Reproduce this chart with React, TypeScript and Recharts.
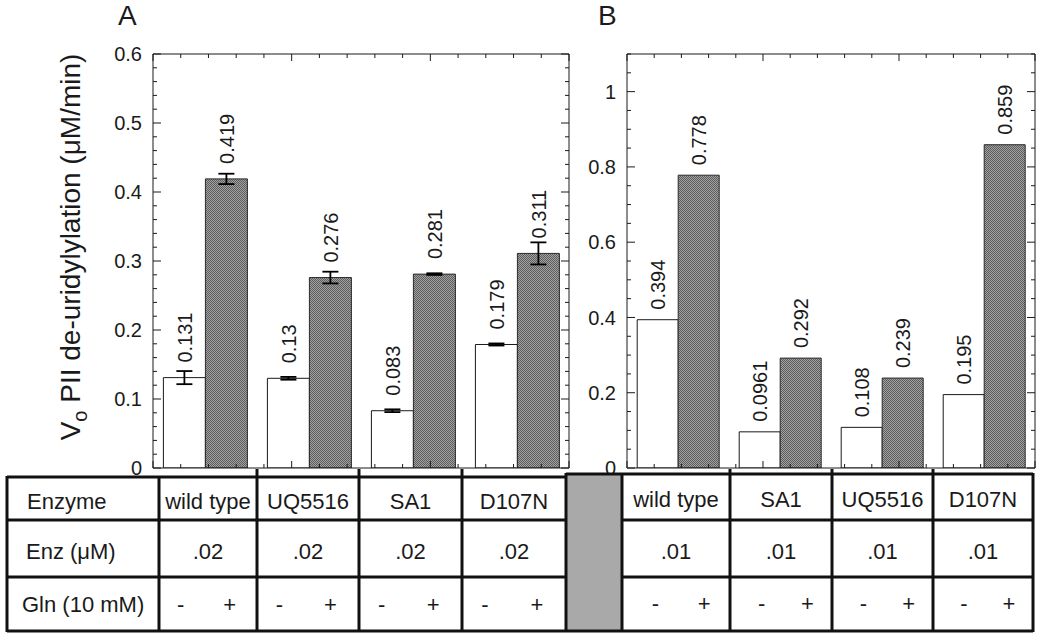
import { BarChart, Bar, XAxis, YAxis, ErrorBar, LabelList } from "recharts";

const FONT = '"Liberation Sans", Arial, Helvetica, sans-serif';
const INK = "#1a1a1a";

// panel A: 0.02 uM enzyme
const enzymesA = ["wild type", "UQ5516", "SA1", "D107N"];
const withoutGlnA = [0.131, 0.13, 0.083, 0.179];
const withGlnA = [0.419, 0.276, 0.281, 0.311];
const withoutGlnErrA = [0.0095, 0.002, 0.002, 0.0015];
const withGlnErrA = [0.0075, 0.0085, 0.0012, 0.016];
const enzConcA = [".02", ".02", ".02", ".02"];
const yTicksA = [0, 0.1, 0.2, 0.3, 0.4, 0.5, 0.6];

// panel B: 0.01 uM enzyme
const enzymesB = ["wild type", "SA1", "UQ5516", "D107N"];
const withoutGlnB = [0.394, 0.0961, 0.108, 0.195];
const withGlnB = [0.778, 0.292, 0.239, 0.859];
const enzConcB = [".01", ".01", ".01", ".01"];
const yTicksB = [0, 0.2, 0.4, 0.6, 0.8, 1];

const rowLabels = ["Enzyme", "Enz (\u03bcM)", "Gln (10 mM)"];
const glnSigns = ["-", "+"];
const yLabelRest = " PII de-uridylylation (\u03bcM/min)";

// minor tick positions (axis decoration only)
const minorA = Array.from({ length: 31 }, (_, i) => +(i * 0.02).toFixed(2));
const minorB = Array.from({ length: 23 }, (_, i) => +(i * 0.05).toFixed(2));
const xTicks = Array.from({ length: 21 }, (_, i) => +(i * 0.2).toFixed(1));

const dataA = enzymesA.map((enzyme, i) => ({
  enzyme,
  without: withoutGlnA[i],
  withGln: withGlnA[i],
  withoutErr: withoutGlnErrA[i],
  withErr: withGlnErrA[i],
}));

const dataB = enzymesB.map((enzyme, i) => ({
  enzyme,
  without: withoutGlnB[i],
  withGln: withGlnB[i],
}));

const near = (v: number, list: number[]) => list.some((t) => Math.abs(t - v) < 1e-6);

function makeYTick(side: "left" | "right", majors: number[]) {
  return (props: any) => {
    const { x, y, payload } = props;
    const major = near(payload.value, majors);
    const dir = side === "left" ? 1 : -1;
    return (
      <g>
        <line x1={x} y1={y} x2={x + dir * (major ? 8 : 4)} y2={y} stroke={INK} strokeWidth={1} />
        {side === "left" && major && (
          <text x={x - 11} y={y} dy="0.36em" textAnchor="end" fontSize={20} fontFamily={FONT} fill={INK}>
            {String(payload.value)}
          </text>
        )}
      </g>
    );
  };
}

function makeXTick(side: "top" | "bottom") {
  return (props: any) => {
    const { x, y, payload } = props;
    const major = Math.abs(payload.value - Math.round(payload.value)) < 1e-6;
    const dir = side === "top" ? 1 : -1;
    return <line x1={x} y1={y} x2={x} y2={y + dir * (major ? 7 : 4)} stroke={INK} strokeWidth={1} />;
  };
}

function makeValueLabel(gap: number) {
  return (props: any) => {
    const { x, y, width, value } = props;
    const cx = Number(x) + Number(width) / 2;
    const ty = Number(y) - gap;
    return (
      <text
        x={cx}
        y={ty}
        dy="0.36em"
        transform={`rotate(-90 ${cx} ${ty})`}
        textAnchor="start"
        fontSize={20}
        fontFamily={FONT}
        fill={INK}
      >
        {String(value)}
      </text>
    );
  };
}

function Panel({
  data,
  width,
  left,
  marginLeft,
  marginRight,
  yMax,
  majors,
  minors,
  labelGap,
  withErrors,
}: {
  data: any[];
  width: number;
  left: number;
  marginLeft: number;
  marginRight: number;
  yMax: number;
  majors: number[];
  minors: number[];
  labelGap: number;
  withErrors: boolean;
}) {
  const xCommon = {
    type: "number" as const,
    domain: [0, 4],
    ticks: xTicks,
    interval: 0 as const,
    height: 1,
    tickLine: false,
    tickSize: 0,
    tickMargin: 0,
    allowDataOverflow: true,
    axisLine: { stroke: INK, strokeWidth: 1 },
  };
  const yCommon = {
    type: "number" as const,
    domain: [0, yMax],
    ticks: minors,
    interval: 0 as const,
    tickLine: false,
    tickSize: 0,
    tickMargin: 0,
    allowDataOverflow: true,
    axisLine: { stroke: INK, strokeWidth: 1 },
  };
  return (
    <div style={{ position: "absolute", left, top: 0 }}>
      <BarChart
        width={width}
        height={480}
        data={data}
        margin={{ top: 53, right: marginRight, bottom: 11, left: marginLeft }}
        barCategoryGap="10%"
        barGap={0}
      >
        <XAxis xAxisId="cat" dataKey="enzyme" hide />
        <XAxis xAxisId="top" orientation="top" {...xCommon} tick={makeXTick("top")} />
        <XAxis xAxisId="bottom" orientation="bottom" {...xCommon} tick={makeXTick("bottom")} />
        <YAxis yAxisId="l" orientation="left" width={60} {...yCommon} tick={makeYTick("left", majors)} />
        <YAxis yAxisId="r" orientation="right" width={1} {...yCommon} tick={makeYTick("right", majors)} />
        <Bar
          xAxisId="cat"
          yAxisId="l"
          dataKey="without"
          fill="#ffffff"
          stroke={INK}
          strokeWidth={1}
          isAnimationActive={false}
        >
          {withErrors && (
            <ErrorBar dataKey="withoutErr" width={8} stroke="#000" strokeWidth={1.8} isAnimationActive={false} />
          )}
          <LabelList dataKey="without" content={makeValueLabel(labelGap)} />
        </Bar>
        <Bar
          xAxisId="cat"
          yAxisId="l"
          dataKey="withGln"
          fill="url(#stipple)"
          stroke="#2a2a2a"
          strokeWidth={1}
          isAnimationActive={false}
        >
          {withErrors && (
            <ErrorBar dataKey="withErr" width={8} stroke="#000" strokeWidth={1.8} isAnimationActive={false} />
          )}
          <LabelList dataKey="withGln" content={makeValueLabel(labelGap)} />
        </Bar>
      </BarChart>
    </div>
  );
}

const LEFT_COLS = [159, 257, 359, 462, 566];
const RIGHT_COLS = [622, 730, 832, 933, 1033];

function Table() {
  const line = (x1: number, y1: number, x2: number, y2: number, key: string) => (
    <line key={key} x1={x1} y1={y1} x2={x2} y2={y2} stroke="#111" strokeWidth={3} />
  );
  const textProps = { fontSize: 22, fontFamily: FONT, fill: INK, dy: "0.36em" };
  const cells = (
    cols: number[],
    names: string[],
    conc: string[],
    rowY: number[],
    signPos: number[],
    prefix: string
  ) =>
    names.map((name, i) => {
      const x0 = cols[i];
      const x1 = cols[i + 1];
      const w = x1 - x0;
      const cx = (x0 + x1) / 2;
      return (
        <g key={prefix + i}>
          <text x={cx} y={rowY[0]} textAnchor="middle" {...textProps}>{name}</text>
          <text x={cx} y={rowY[1]} textAnchor="middle" {...textProps}>{conc[i]}</text>
          <text x={x0 + w * signPos[0]} y={rowY[2]} textAnchor="middle" {...textProps}>{glnSigns[0]}</text>
          <text x={x0 + w * signPos[1]} y={rowY[2]} textAnchor="middle" {...textProps}>{glnSigns[1]}</text>
        </g>
      );
    });
  return (
    <svg width={1050} height={640} style={{ position: "absolute", left: 0, top: 0, pointerEvents: "none" }}>
      <rect x={566} y={474} width={56} height={157} fill="#a9a9a9" />
      {line(7, 477, 566, 477, "t1")}
      {line(566, 474, 1033, 474, "t2")}
      {line(7, 520, 566, 520, "r1")}
      {line(622, 520, 1033, 520, "r2")}
      {line(7, 577, 566, 577, "r3")}
      {line(622, 577, 1033, 577, "r4")}
      {line(7, 631, 1033, 631, "b")}
      {line(7, 476, 7, 632, "v0")}
      {line(159, 476, 159, 632, "v1")}
      {[257, 359, 462].map((x) => line(x, 469, x, 632, "va" + x))}
      {line(566, 473, 566, 632, "v5")}
      {line(622, 473, 622, 632, "v6")}
      {[730, 832, 933].map((x) => line(x, 469, x, 632, "vb" + x))}
      {line(1033, 473, 1033, 632, "v10")}
      <text x={27} y={501} {...textProps}>{rowLabels[0]}</text>
      <text x={26} y={551} {...textProps}>{rowLabels[1]}</text>
      <text x={22} y={604} {...textProps}>{rowLabels[2]}</text>
      {cells(LEFT_COLS, enzymesA, enzConcA, [501, 551, 604], [0.22, 0.72], "a")}
      {cells(RIGHT_COLS, enzymesB, enzConcB, [499, 551, 603], [0.31, 0.76], "b")}
    </svg>
  );
}

export default function App() {
  return (
    <div
      style={{
        position: "absolute",
        left: 0,
        top: 0,
        width: 1050,
        height: 640,
        background: "#ffffff",
        overflow: "hidden",
        fontFamily: FONT,
      }}
    >
      <svg width={0} height={0} style={{ position: "absolute" }}>
        <defs>
          <pattern id="stipple" width={2} height={2} patternUnits="userSpaceOnUse">
            <rect width={2} height={2} fill="#a2a2a2" />
            <rect width={1} height={1} fill="#5c5c5c" />
            <rect x={1} y={1} width={1} height={1} fill="#5c5c5c" />
          </pattern>
        </defs>
      </svg>
      <Panel
        data={dataA}
        width={580}
        left={0}
        marginLeft={93}
        marginRight={10}
        yMax={0.6}
        majors={yTicksA}
        minors={minorA}
        labelGap={15}
        withErrors
      />
      <Panel
        data={dataB}
        width={530}
        left={520}
        marginLeft={47}
        marginRight={14}
        yMax={1.1}
        majors={yTicksB}
        minors={minorB}
        labelGap={10}
        withErrors={false}
      />
      <svg width={1050} height={640} style={{ position: "absolute", left: 0, top: 0, pointerEvents: "none" }}>
        <text x={118} y={25} fontSize={28} fontFamily={FONT} fill={INK}>A</text>
        <text x={598} y={25} fontSize={28} fontFamily={FONT} fill={INK}>B</text>
        <text
          x={80}
          y={247}
          transform="rotate(-90 80 247)"
          textAnchor="middle"
          fontSize={28}
          fontFamily={FONT}
          fill={INK}
        >
          V<tspan dy={7} fontSize={20}>o</tspan>
          <tspan dy={-7}>{yLabelRest}</tspan>
        </text>
      </svg>
      <Table />
    </div>
  );
}
